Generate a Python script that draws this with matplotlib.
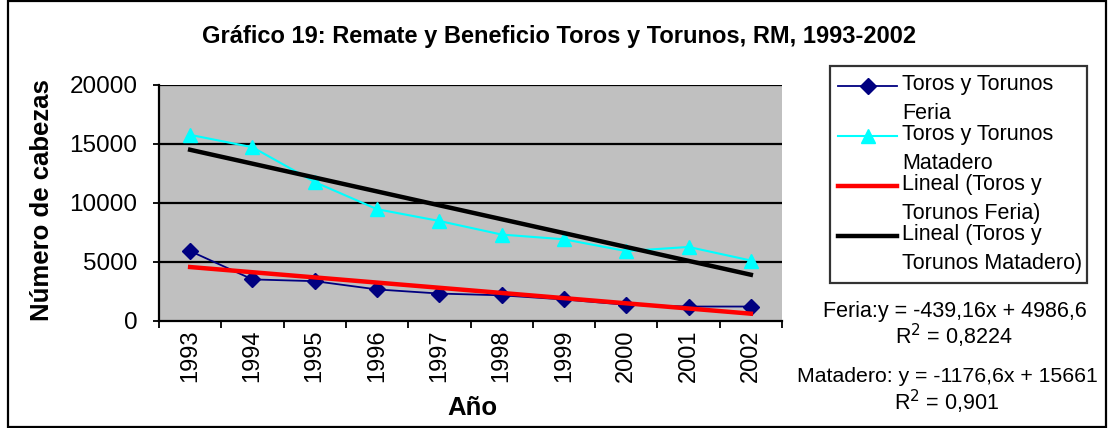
import numpy as np
import matplotlib
matplotlib.use("Agg")
import matplotlib.pyplot as plt
from matplotlib.legend_handler import HandlerLine2D
from matplotlib.patches import Rectangle

plt.rcParams['font.family'] = ['Liberation Sans', 'DejaVu Sans']

# datos
anios = ['1993', '1994', '1995', '1996', '1997', '1998', '1999', '2000', '2001', '2002']
feria = [5900, 3500, 3350, 2650, 2300, 2150, 1800, 1350, 1200, 1200]
matadero = [15750, 14700, 11750, 9450, 8450, 7300, 6900, 5900, 6250, 5100]

# coeficientes de las lineas de tendencia (segun el grafico)
feria_pend, feria_int = -439.16, 4986.6
mat_pend, mat_int = -1176.6, 15661


class HandlerArriba(HandlerLine2D):
    # sube la muestra de la leyenda a la altura de la primera linea del texto
    def __init__(self, subir, **kw):
        super().__init__(**kw)
        self.subir = subir

    def create_artists(self, legend, orig_handle, xdescent, ydescent, width, height,
                       fontsize, trans):
        arts = super().create_artists(legend, orig_handle, xdescent, ydescent, width,
                                      height, fontsize, trans)
        for a in arts:
            a.set_ydata(np.asarray(a.get_ydata()) + self.subir)
        return arts


W, H = 1108, 428
fig = plt.figure(figsize=(W / 100, H / 100), dpi=100)
ax = fig.add_axes([159 / W, 1 - 320.7 / H, 623 / W, (320.7 - 84.7) / H])

x = np.arange(1, len(anios) + 1)
ax.set_facecolor('#C0C0C0')
for v in [5000, 10000, 15000, 20000]:
    ax.axhline(v, color='black', lw=1.6, zorder=1)

l1, = ax.plot(x, feria, color='#000080', marker='D', ms=8, lw=1.3, zorder=3)
l2, = ax.plot(x, matadero, color='#00FFFF', marker='^', ms=10, lw=1.5, zorder=3)
l3, = ax.plot(x, feria_pend * x + feria_int, color='#FF0000', lw=3.2, zorder=4)
l4, = ax.plot(x, mat_pend * x + mat_int, color='black', lw=3.2, zorder=4)

ax.set_xlim(0.5, len(anios) + 0.5)
ax.set_ylim(0, 20000)
ax.set_yticks([0, 5000, 10000, 15000, 20000])
ax.set_yticklabels(['0', '5000', '10000', '15000', '20000'], fontsize=17.5)
ax.set_xticks(np.arange(0.5, len(anios) + 1, 1))
ax.set_xticklabels([])
ax.set_xticks(x, minor=True)
ax.set_xticklabels(anios, minor=True, rotation=90, fontsize=17)
ax.tick_params(axis='x', which='major', length=5, width=1.3, direction='out')
ax.tick_params(axis='x', which='minor', length=0, pad=6)
ax.tick_params(axis='y', length=4.5, width=1.3, direction='out', pad=11)
for s in ['top', 'right']:
    ax.spines[s].set_visible(False)
ax.spines['left'].set_linewidth(1.6)
ax.spines['bottom'].set_linewidth(1.6)

fig.text(559 / W, 1 - 37 / H, 'Gráfico 19: Remate y Beneficio Toros y Torunos, RM, 1993-2002',
         ha='center', va='center', fontsize=17, fontweight='bold')
fig.text(42 / W, 1 - 200 / H, 'Número de cabezas', rotation=90, ha='center', va='center',
         fontsize=18.5, fontweight='bold')
fig.text(472 / W, 1 - 408 / H, 'Año', ha='center', va='center', fontsize=18.5, fontweight='bold')

labels = ['Toros y Torunos\nFeria', 'Toros y Torunos\nMatadero',
          'Lineal (Toros y\nTorunos Feria)', 'Lineal (Toros y\nTorunos Matadero)']
hm = {h: HandlerArriba(10.2) for h in [l1, l2, l3, l4]}
leg = fig.legend([l1, l2, l3, l4], labels, loc='upper left',
                 bbox_to_anchor=(829.7 / W, 1 - 65.7 / H, 257 / W, 0.0), mode='expand',
                 fontsize=15.5, frameon=True, fancybox=False, edgecolor='black',
                 handlelength=2.73, handletextpad=0.25, labelspacing=0.0,
                 borderpad=0.4, borderaxespad=0, handler_map=hm)
leg.get_frame().set_linewidth(1.6)
for t in leg.get_texts():
    t.set_linespacing(1.5)

fig.text(955 / W, 1 - 312 / H, 'Feria:y = -439,16x + 4986,6', ha='center', va='center', fontsize=15.5)
fig.text(954 / W, 1 - 336 / H, 'R$^2$ = 0,8224', ha='center', va='center', fontsize=15.5)
fig.text(947 / W, 1 - 377 / H, 'Matadero: y = -1176,6x + 15661', ha='center', va='center', fontsize=15.3)
fig.text(947 / W, 1 - 402 / H, 'R$^2$ = 0,901', ha='center', va='center', fontsize=15.5)

fig.patches.append(Rectangle((8 / W, 1 / H), 1098 / W, 426 / H, transform=fig.transFigure,
                             fill=False, edgecolor='black', lw=1.6))

fig.savefig('out.png', dpi=100)
